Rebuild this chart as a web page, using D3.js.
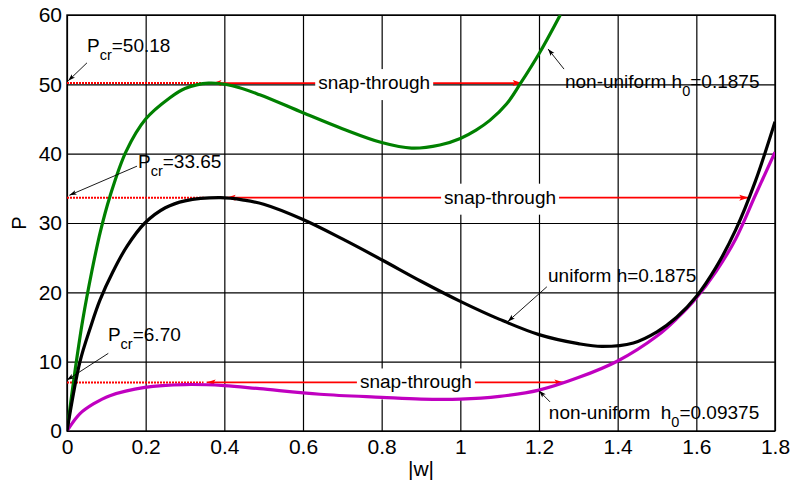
<!DOCTYPE html>
<html>
<head>
<meta charset="utf-8">
<script src="https://cdn.jsdelivr.net/npm/d3@7"></script>
<style>
  body { margin: 0; background: #fff; }
  text { font-family: "Liberation Sans", Arial, sans-serif; fill: #000; }
</style>
</head>
<body>
<div id="container"></div>
<script>
// ---- data ----
const xTicks = [0, 0.2, 0.4, 0.6, 0.8, 1, 1.2, 1.4, 1.6, 1.8];
const xTickLabels = ["0", "0.2", "0.4", "0.6", "0.8", "1", "1.2", "1.4", "1.6", "1.8"];
const yTicks = [0, 10, 20, 30, 40, 50, 60];
const yTickLabels = ["0", "10", "20", "30", "40", "50", "60"];

// non-uniform h0 = 0.1875 (green)
const wGreen = [0, 0.02, 0.04, 0.063, 0.085, 0.109, 0.15, 0.2, 0.26, 0.3, 0.36, 0.42, 0.49, 0.6, 0.7, 0.8, 0.876, 0.948, 1.0, 1.04, 1.075, 1.118, 1.152, 1.203, 1.254];
const pGreen = [0, 8.5, 16, 23, 28.8, 33.8, 40.3, 45, 48, 49.4, 50.18, 49.8, 48.5, 45.9, 43.6, 41.6, 40.8, 41.25, 42.2, 43.4, 44.8, 47.2, 50.05, 54.7, 60];

// uniform h = 0.1875 (black)
const wBlack = [0, 0.033, 0.06, 0.084, 0.117, 0.152, 0.198, 0.25, 0.3, 0.39, 0.45, 0.5, 0.6, 0.7, 0.8, 0.9, 1.0, 1.1, 1.2, 1.3, 1.36, 1.44, 1.5, 1.55, 1.6, 1.65, 1.7, 1.75, 1.8];
const pBlack = [0, 10, 15, 18.9, 23, 26.6, 30, 32.2, 33.2, 33.65, 33.3, 32.7, 30.5, 27.7, 24.7, 21.6, 18.7, 16.1, 13.9, 12.6, 12.2, 12.7, 14.3, 16.4, 19.4, 23.6, 29, 36, 44.6];

// non-uniform h0 = 0.09375 (magenta)
const wMagenta = [0, 0.033, 0.067, 0.109, 0.198, 0.3, 0.4, 0.49, 0.643, 0.8, 0.9, 1.0, 1.1, 1.2, 1.3, 1.4, 1.5, 1.55, 1.6, 1.65, 1.7, 1.75, 1.8];
const pMagenta = [0, 2.5, 3.9, 5.1, 6.3, 6.7, 6.55, 6.1, 5.3, 4.85, 4.6, 4.6, 5.0, 5.9, 7.7, 10.1, 13.7, 16.2, 19.2, 23.0, 27.7, 34.0, 40.2];

// snap-through arrows: level, dotted end, left tip, right tip, label centre
const snapLevel = [50.18, 33.65, 7.0];
const snapDotEnd = [0.342, 0.351, 0.347];
const snapFrom = [0.37, 0.406, 0.355];
const snapTo = [1.156, 1.732, 1.262];
const snapTextAt = [0.781, 1.101, 0.887];

const series = [
  { w: wGreen, p: pGreen, color: "#008000" },
  { w: wMagenta, p: pMagenta, color: "#c000c0" },
  { w: wBlack, p: pBlack, color: "#000000" },
];

// ---- layout ----
const W = 791, H = 481;
const mLeft = 67, mRight = 775, mTop = 15, mBottom = 431;

const x = d3.scaleLinear().domain([0, 1.8]).range([mLeft, mRight]);
const y = d3.scaleLinear().domain([0, 60]).range([mBottom, mTop]);

const svg = d3.select("#container").append("svg")
  .attr("width", W).attr("height", H);

const defs = svg.append("defs");
defs.append("clipPath").attr("id", "plotClip")
  .append("rect").attr("x", mLeft).attr("y", mTop)
  .attr("width", mRight - mLeft).attr("height", mBottom - mTop);

defs.append("marker").attr("id", "redHead")
  .attr("viewBox", "0 -5 10 10").attr("refX", 10).attr("refY", 0)
  .attr("markerWidth", 10).attr("markerHeight", 10)
  .attr("markerUnits", "userSpaceOnUse").attr("orient", "auto-start-reverse")
  .append("path").attr("d", "M1,-3L10,0L1,3L3,0Z").attr("fill", "#ff0000");

defs.append("marker").attr("id", "blackHead")
  .attr("viewBox", "0 -5 10 10").attr("refX", 10).attr("refY", 0)
  .attr("markerWidth", 8).attr("markerHeight", 8)
  .attr("markerUnits", "userSpaceOnUse").attr("orient", "auto")
  .append("path").attr("d", "M1,-3L10,0L1,3L3,0Z").attr("fill", "#000");

// grid + tick labels
const xAxis = d3.axisBottom(x)
  .tickValues(xTicks)
  .tickFormat((d, i) => xTickLabels[i])
  .tickSizeInner(-(mBottom - mTop)).tickSizeOuter(0).tickPadding(8);
const gx = svg.append("g").attr("transform", `translate(0,${mBottom})`).call(xAxis);

const yAxis = d3.axisLeft(y)
  .tickValues(yTicks)
  .tickFormat((d, i) => yTickLabels[i])
  .tickSizeInner(-(mRight - mLeft)).tickSizeOuter(0).tickPadding(5);
const gy = svg.append("g").attr("transform", `translate(${mLeft},0)`).call(yAxis);

[gx, gy].forEach((g) => {
  g.select(".domain").remove();
  g.attr("font-size", 21);
  g.selectAll(".tick line").attr("stroke", "#000").attr("stroke-width", 1.2);
  g.selectAll(".tick text").attr("fill", "#000");
});

svg.append("rect")
  .attr("x", mLeft).attr("y", mTop)
  .attr("width", mRight - mLeft).attr("height", mBottom - mTop)
  .attr("fill", "none").attr("stroke", "#000").attr("stroke-width", 1.4);

// axis titles
svg.append("text").attr("x", (mLeft + mRight) / 2).attr("y", 476)
  .attr("text-anchor", "middle").attr("font-size", 21).text("|w|");
svg.append("text")
  .attr("transform", `translate(26,${(mTop + mBottom) / 2}) rotate(-90)`)
  .attr("text-anchor", "middle").attr("font-size", 20).text("P");

// dotted critical-load lines
const plot = svg.append("g").attr("clip-path", "url(#plotClip)");
snapLevel.forEach((lv, i) => {
  plot.append("line")
    .attr("x1", x(0)).attr("x2", x(snapDotEnd[i]))
    .attr("y1", y(lv)).attr("y2", y(lv))
    .attr("stroke", "#ff0000").attr("stroke-width", 2)
    .attr("stroke-dasharray", "2,1");
});

// snap-through arrows, white label boxes underneath the curves
const snapTexts = [];
snapLevel.forEach((lv, i) => {
  svg.append("line")
    .attr("x1", x(snapFrom[i])).attr("x2", x(snapTo[i]))
    .attr("y1", y(lv)).attr("y2", y(lv))
    .attr("stroke", "#ff0000").attr("stroke-width", 1.8)
    .attr("marker-start", "url(#redHead)")
    .attr("marker-end", "url(#redHead)");
  const bg = svg.append("rect").attr("fill", "#fff");
  const t = svg.append("text")
    .attr("x", x(snapTextAt[i])).attr("y", y(lv) + 6)
    .attr("text-anchor", "middle").attr("font-size", 19)
    .text("snap-through");
  const b = t.node().getBBox();
  bg.attr("x", b.x - 3).attr("y", b.y - 3)
    .attr("width", b.width + 6).attr("height", b.height + 10);
  snapTexts.push(t);
});

// curves
const line = d3.line()
  .x((d) => x(d[0])).y((d) => y(d[1]))
  .curve(d3.curveCatmullRom.alpha(0.5));

const curves = svg.append("g").attr("clip-path", "url(#plotClip)");
series.forEach((s) => {
  curves.append("path")
    .datum(s.w.map((w, i) => [w, s.p[i]]))
    .attr("d", line)
    .attr("fill", "none")
    .attr("stroke", s.color)
    .attr("stroke-width", 3.2)
    .attr("stroke-linejoin", "round");
});
snapTexts.forEach((t) => t.raise());

// annotations (text parts, text anchor, arrow start, arrow tip) in data units
const notes = [
  { parts: [["P"], ["cr", 1], ["=50.18"]], at: [0.0508, 54.7], from: [0.0508, 53.1], to: [0.003, 50.5] },
  { parts: [["P"], ["cr", 1], ["=33.65"]], at: [0.1805, 37.9], from: [0.178, 38.2], to: [0.006, 34.0] },
  { parts: [["P"], ["cr", 1], ["=6.70"]], at: [0.104, 13.0], from: [0.105, 11.2], to: [0.0, 7.35] },
  { parts: [["non-uniform h"], ["0", 1], ["=0.1875"]], at: [1.266, 49.5], from: [1.2636, 52.2], to: [1.223, 55.1] },
  { parts: [["uniform h=0.1875"]], at: [1.223, 21.5], from: [1.22, 20.8], to: [1.121, 15.8] },
  { parts: [["non-uniform  h"], ["0", 1], ["=0.09375"]], at: [1.225, 1.73], from: [1.228, 4.2], to: [1.2, 5.8] },
];

notes.forEach((n) => {
  svg.append("line")
    .attr("x1", x(n.from[0])).attr("y1", y(n.from[1]))
    .attr("x2", x(n.to[0])).attr("y2", y(n.to[1]))
    .attr("stroke", "#000").attr("stroke-width", 0.9)
    .attr("marker-end", "url(#blackHead)");
  const t = svg.append("text")
    .attr("x", x(n.at[0])).attr("y", y(n.at[1]))
    .attr("font-size", 19)
    .style("white-space", "pre");
  let shifted = false;
  n.parts.forEach(([s, sub]) => {
    const dy = sub ? (shifted ? 0 : 8) : (shifted ? -8 : 0);
    shifted = !!sub;
    t.append("tspan").attr("dy", dy)
      .attr("font-size", sub ? 14.5 : null)
      .text(s);
  });
});
</script>
</body>
</html>
